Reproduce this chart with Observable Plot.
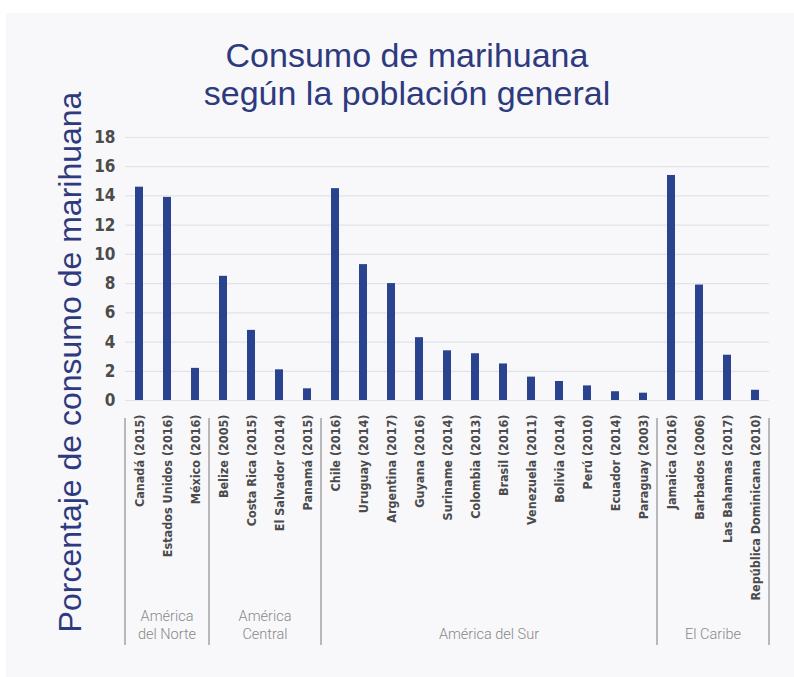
<!DOCTYPE html>
<html><head><meta charset="utf-8">
<script src="https://cdn.jsdelivr.net/npm/d3@7"></script>
<script src="https://cdn.jsdelivr.net/npm/@observablehq/plot@0.6"></script>
<style>
body{margin:0;background:#fff;}
#wrap{position:relative;width:794px;height:677px;overflow:hidden;}
#panel{position:absolute;left:6px;top:13px;right:0;bottom:0;background:#f8f8fa;}
#chart{position:absolute;left:0;top:0;}
#title{position:absolute;left:0;width:814px;top:36px;text-align:center;font:34px/38px "Liberation Sans",Arial,sans-serif;color:#2e3a7e;}
#ylabel{position:absolute;left:70px;top:362px;transform:translate(-50%,-50%) rotate(-90deg);white-space:nowrap;font:32px/32px "Liberation Sans",Arial,sans-serif;color:#2e3a7e;}
</style></head>
<body>
<div id="wrap">
<div id="panel"></div>
<div id="chart"></div>
<div id="title">Consumo de marihuana<br>según la población general</div>
<div id="ylabel">Porcentaje de consumo de marihuana</div>
</div>
<script>
const countries = ["Canadá (2015)","Estados Unidos (2016)","México (2016)","Belize (2005)","Costa Rica (2015)","El Salvador (2014)","Panamá (2015)","Chile (2016)","Uruguay (2014)","Argentina (2017)","Guyana (2016)","Suriname (2014)","Colombia (2013)","Brasil (2016)","Venezuela (2011)","Bolivia (2014)","Perú (2010)","Ecuador (2014)","Paraguay (2003)","Jamaica (2016)","Barbados (2006)","Las Bahamas (2017)","República Dominicana (2010)"];
const values = [14.6,13.9,2.2,8.5,4.8,2.1,0.8,14.5,9.3,8.0,4.3,3.4,3.2,2.5,1.6,1.3,1.0,0.6,0.5,15.4,7.9,3.1,0.7];
const regions = ["América del Norte","América del Norte","América del Norte","América Central","América Central","América Central","América Central","América del Sur","América del Sur","América del Sur","América del Sur","América del Sur","América del Sur","América del Sur","América del Sur","América del Sur","América del Sur","América del Sur","América del Sur","El Caribe","El Caribe","El Caribe","El Caribe"];
const regionLabels = {"América del Norte":["América","del Norte"],"América Central":["América","Central"],"América del Sur":["América del Sur"],"El Caribe":["El Caribe"]};
const yTicks = [0,2,4,6,8,10,12,14,16,18];

const data = countries.map((c,i)=>({country:c, value:values[i], region:regions[i]}));
const tickFont = '"DejaVu Sans Condensed","DejaVu Sans",sans-serif';

const plot = Plot.plot({
  width:794, height:677,
  marginLeft:125, marginRight:25, marginTop:137, marginBottom:277,
  style:{background:"transparent", overflow:"visible"},
  x:{domain:countries, paddingInner:0.7, paddingOuter:0.35, label:null},
  y:{domain:[0,18], label:null},
  marks:[
    Plot.gridY(yTicks,{stroke:"#e2e3e8", strokeOpacity:1, strokeWidth:1.2}),
    Plot.barY(data,{x:"country", y:"value", fill:"#29438f"}),
    Plot.axisY(yTicks,{tickSize:0, tickPadding:10, fontSize:17, fontWeight:"bold", fill:"#4b4b4b", fontFamily:tickFont, label:null}),
    Plot.axisX({tickRotate:-90, tickSize:0, tickPadding:14, fontSize:12.5, fontWeight:"bold", fill:"#4b4b4b", fontFamily:tickFont, label:null})
  ]
});
document.getElementById("chart").appendChild(plot);

// region separators and labels, positioned through the plot's own scales
const xs = plot.scale("x"), ys = plot.scale("y");
const gap = (xs.step - xs.bandwidth)/2;
const base = ys.apply(0);
const g = d3.select(plot).append("g");
const groups = d3.groups(data, d=>d.region);
groups.forEach(([name, rows], gi) => {
  const x0 = xs.apply(rows[0].country) - gap;
  const x1 = xs.apply(rows[rows.length-1].country) + xs.bandwidth + gap;
  const bounds = gi === groups.length-1 ? [x0, x1] : [x0];
  bounds.forEach(bx => g.append("line").attr("x1",bx).attr("x2",bx).attr("y1",base+18).attr("y2",base+245)
    .attr("stroke","#a3a3a3").attr("stroke-width",1.5));
  const lines = regionLabels[name];
  const t = g.append("text").attr("text-anchor","middle").attr("fill","#888888")
    .attr("font-family","Roboto,sans-serif").attr("font-weight",300).attr("font-size",14.5);
  lines.forEach((ln, li) => t.append("tspan").attr("x",(x0+x1)/2).attr("y", base+239 - (lines.length-1-li)*18).text(ln));
});
</script>
</body></html>
